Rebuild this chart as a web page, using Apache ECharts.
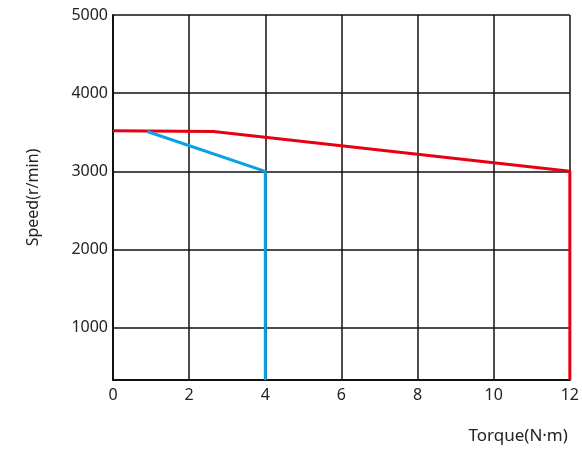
<!DOCTYPE html>
<html><head><meta charset="utf-8">
<script src="https://cdn.jsdelivr.net/npm/echarts@6/dist/echarts.min.js"></script>
<style>html,body{margin:0;padding:0;background:#fff}#c{width:582px;height:454px}</style>
</head><body><div id="c"></div>
<script>
var xTicks = [0, 2, 4, 6, 8, 10, 12];
var yTicks = [1000, 2000, 3000, 4000, 5000];
var yMin = 330, yMax = 5000;
var redX = [0, 2.64, 12, 12];
var redY = [3520, 3510, 3000, 330];
var blueX = [0.9, 4, 4];
var blueY = [3510, 3000, 330];

function pairs(xs, ys){ return xs.map(function(x,i){return [x, ys[i]];}); }
var font = 'Noto Sans';
var chart = echarts.init(document.getElementById('c'));
chart.setOption({
  animation: false,
  grid: {left: 113, right: 9, top: 15, bottom: 74, containLabel: false},
  xAxis: {
    type: 'value', min: 0, max: 12, interval: 2,
    name: 'Torque(N·m)', nameLocation: 'end',
    nameTextStyle: {fontFamily: font, fontSize: 17, color: '#222', align: 'right', verticalAlign: 'top', padding: [48, 0, 0, 0]},
    nameGap: -2,
    axisLine: {show: true, lineStyle: {color: '#111', width: 2}},
    axisTick: {show: false},
    axisLabel: {fontFamily: font, fontSize: 16, color: '#222', margin: 7, formatter: function(v){return String(v);}},
    splitLine: {show: true, lineStyle: {color: '#111', width: 1.5}}
  },
  yAxis: {
    type: 'value', min: yMin, max: yMax,
    name: 'Speed(r/min)', nameLocation: 'middle', nameGap: 72,
    nameTextStyle: {fontFamily: font, fontSize: 16, color: '#222'},
    axisLine: {show: true, lineStyle: {color: '#111', width: 2}},
    axisTick: {show: false, customValues: yTicks},
    axisLabel: {fontFamily: font, fontSize: 16, color: '#222', margin: 5, customValues: yTicks, formatter: function(v){return String(v);}},
    splitLine: {show: true, lineStyle: {color: '#111', width: 1.5}}
  },
  series: [
    {type: 'line', data: pairs(redX, redY), symbol: 'none', lineStyle: {color: '#e60012', width: 3}, z: 5},
    {type: 'line', data: pairs(blueX, blueY), symbol: 'none', lineStyle: {color: '#0aa0e6', width: 3}, z: 6}
  ]
});
</script></body></html>
